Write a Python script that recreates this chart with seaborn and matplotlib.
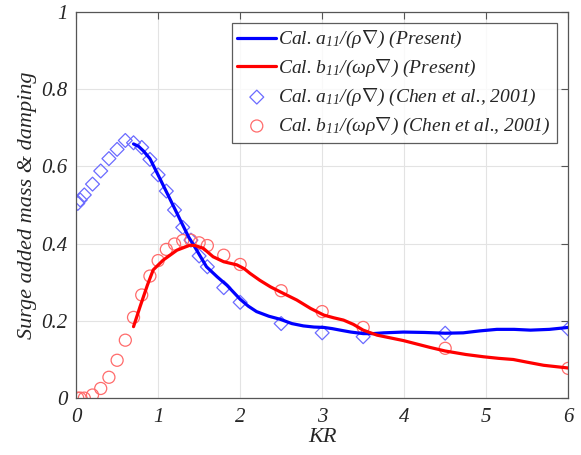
import numpy as np
import pandas as pd
import matplotlib
matplotlib.use("Agg")
import matplotlib.pyplot as plt
import seaborn as sns

# Present calculation: a11/(rho V)
kr_a_line = [0.70, 0.76, 0.82, 0.90, 1.02, 1.15, 1.27, 1.37, 1.47, 1.59, 1.72, 1.84, 1.92, 2.0, 2.1, 2.2, 2.35, 2.49, 2.63, 2.77,
             2.9, 3.02, 3.12, 3.22, 3.35, 3.5, 3.62, 3.75, 3.99, 4.25, 4.5, 4.72, 4.92, 5.13, 5.34, 5.54, 5.77, 6.0]
a_line = [0.658, 0.652, 0.640, 0.620, 0.569, 0.513, 0.461, 0.418, 0.383, 0.340, 0.314, 0.292, 0.274, 0.256, 0.238, 0.224, 0.212, 0.204, 0.193, 0.187,
          0.184, 0.183, 0.180, 0.176, 0.171, 0.167, 0.167, 0.169, 0.171, 0.170, 0.168, 0.169, 0.174, 0.178, 0.178, 0.176, 0.178, 0.183]

# Present calculation: b11/(omega rho V)
kr_b_line = [0.70, 0.78, 0.87, 0.94, 1.06, 1.23, 1.39, 1.45, 1.55, 1.67, 1.80, 1.96, 2.05, 2.12, 2.24, 2.37, 2.49, 2.69,
             2.86, 3.02, 3.14, 3.26, 3.38, 3.5, 3.67, 3.99, 4.32, 4.5, 4.75, 4.97, 5.15, 5.33, 5.5, 5.7, 6.0]
b_line = [0.185, 0.237, 0.293, 0.332, 0.357, 0.383, 0.396, 0.395, 0.388, 0.366, 0.353, 0.345, 0.335, 0.323, 0.305, 0.288, 0.275, 0.254,
          0.232, 0.215, 0.208, 0.202, 0.191, 0.176, 0.163, 0.149, 0.131, 0.122, 0.113, 0.107, 0.103, 0.100, 0.093, 0.085, 0.078]

# Chen et al., 2001: a11/(rho V)
kr_a_chen = [0.02, 0.05, 0.1, 0.2, 0.3, 0.4, 0.5, 0.6, 0.7, 0.8, 0.9, 1.0, 1.1, 1.2, 1.3, 1.4, 1.5, 1.6,
             1.8, 2.0, 2.5, 3.0, 3.5, 4.5, 6.0]
a_chen = [0.504, 0.513, 0.526, 0.554, 0.588, 0.620, 0.644, 0.667, 0.661, 0.649, 0.618, 0.578, 0.536, 0.487,
          0.442, 0.409, 0.368, 0.340, 0.286, 0.248, 0.193, 0.169, 0.159, 0.168, 0.179]

# Chen et al., 2001: b11/(omega rho V)
kr_b_chen = [0.02, 0.05, 0.1, 0.2, 0.3, 0.4, 0.5, 0.6, 0.7, 0.8, 0.9, 1.0, 1.1, 1.2, 1.3, 1.4, 1.5, 1.6,
             1.8, 2.0, 2.5, 3.0, 3.5, 4.5, 6.0]
b_chen = [0.0, 0.0, 0.0, 0.008, 0.025, 0.054, 0.098, 0.150, 0.209, 0.267, 0.316, 0.356, 0.385, 0.399,
          0.408, 0.409, 0.402, 0.395, 0.370, 0.346, 0.278, 0.224, 0.183, 0.129, 0.077]

labels = [r"Cal. $a_{11}/(\rho\nabla)$ (Present)",
          r"Cal. $b_{11}/(\omega\rho\nabla)$ (Present)",
          r"Cal. $a_{11}/(\rho\nabla)$ (Chen et al., 2001)",
          r"Cal. $b_{11}/(\omega\rho\nabla)$ (Chen et al., 2001)"]

sns.set_style("white")
plt.rcParams['font.family'] = ['Liberation Serif', 'DejaVu Serif']
plt.rcParams['font.style'] = 'italic'
plt.rcParams['mathtext.fontset'] = 'custom'
plt.rcParams['mathtext.rm'] = 'Liberation Serif:italic'
plt.rcParams['mathtext.it'] = 'Liberation Serif:italic'
plt.rcParams['mathtext.bf'] = 'Liberation Serif:italic:bold'

fig = plt.figure(figsize=(5.81, 4.55), dpi=100)
ax = fig.add_axes([0.131, 0.125, 0.847, 0.849])

df_al = pd.DataFrame({"KR": kr_a_line, "v": a_line})
df_bl = pd.DataFrame({"KR": kr_b_line, "v": b_line})
df_ac = pd.DataFrame({"KR": kr_a_chen, "v": a_chen})
df_bc = pd.DataFrame({"KR": kr_b_chen, "v": b_chen})

sns.lineplot(data=df_al, x="KR", y="v", ax=ax, color="#0000ff", lw=2.3, sort=False,
             estimator=None, label=labels[0], zorder=3)
sns.lineplot(data=df_bl, x="KR", y="v", ax=ax, color="#ff0000", lw=2.3, sort=False,
             estimator=None, label=labels[1], zorder=3)
sns.scatterplot(data=df_ac, x="KR", y="v", ax=ax, marker="D", s=50, facecolor="none",
                edgecolor="#6b6bff", linewidth=0.9, label=labels[2], zorder=2)
sns.scatterplot(data=df_bc, x="KR", y="v", ax=ax, marker="o", s=75, facecolor="none",
                edgecolor="#ff6b6b", linewidth=0.9, label=labels[3], zorder=2)

ax.set_xlim(0, 6)
ax.set_ylim(0, 1)
ax.set_xticks([0, 1, 2, 3, 4, 5, 6])
ax.set_yticks([0, 0.2, 0.4, 0.6, 0.8, 1])
ax.set_yticklabels(["0", "0.2", "0.4", "0.6", "0.8", "1"])
ax.grid(True, color="#e3e3e3", lw=0.8)
ax.set_axisbelow(True)
for s in ax.spines.values():
    s.set_visible(True)
    s.set_color("#555555")
    s.set_linewidth(0.9)
ax.tick_params(direction="in", length=5, width=0.8, color="#555555", labelsize=15,
               top=True, right=True, pad=6)
ax.tick_params(axis="x", pad=7)
ax.set_xlabel("KR", fontsize=16, labelpad=1)
ax.set_ylabel("Surge added mass & damping", fontsize=16, labelpad=3)

leg = ax.legend(loc="upper right", fontsize=14, frameon=True, fancybox=False,
                edgecolor="#333333", borderaxespad=0.6, handlelength=2.0,
                handletextpad=0.1, labelspacing=0.4, borderpad=0.3)
leg.get_frame().set_linewidth(0.9)

fig.savefig("out.png", dpi=100)
